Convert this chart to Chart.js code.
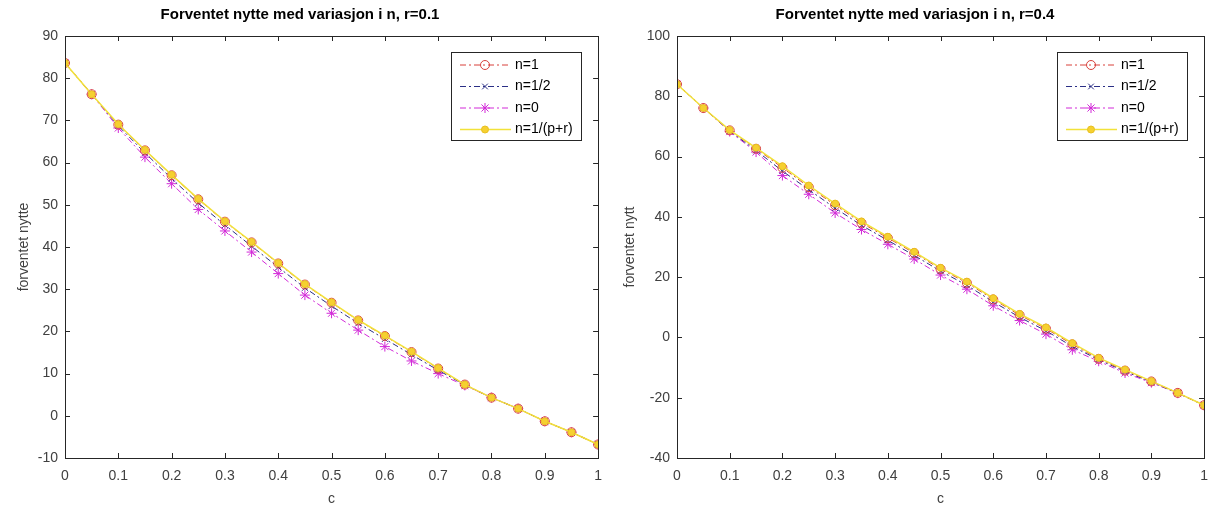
<!DOCTYPE html>
<html>
<head>
<meta charset="utf-8">
<script src="https://cdn.jsdelivr.net/npm/chart.js@4"></script>
<style>
html, body { margin: 0; padding: 0; background: #fff; }
#left { position: absolute; left: 0; top: 0; width: 612px; height: 508px; }
#right { position: absolute; left: 612px; top: 0; width: 606px; height: 508px; }
</style>
</head>
<body>
<div id="left"><canvas id="plot_r01"></canvas></div>
<div id="right"><canvas id="plot_r04"></canvas></div>
<script>
// ===========================================
// Data
// ===========================================
var c_values = [0, 0.05, 0.1, 0.15, 0.2, 0.25, 0.3, 0.35, 0.4, 0.45, 0.5,
	0.55, 0.6, 0.65, 0.7, 0.75, 0.8, 0.85, 0.9, 0.95, 1];

var x_ticks = [0, 0.1, 0.2, 0.3, 0.4, 0.5, 0.6, 0.7, 0.8, 0.9, 1];

var series_labels = ["n=1", "n=1/2", "n=0", "n=1/(p+r)"];

// r = 0.1
var r01_n1    = [83.6, 76.2, 69.0, 62.9, 57.0, 51.3, 46.0, 41.1, 36.1, 31.1, 26.8, 22.6, 18.9, 15.1, 11.2, 7.4, 4.3, 1.7, -1.3, -3.9, -6.8];
var r01_nhalf = [83.6, 76.2, 68.7, 62.3, 56.2, 50.4, 45.2, 40.2, 35.2, 30.3, 26.0, 21.9, 18.2, 14.5, 10.8, 7.3, 4.3, 1.7, -1.3, -3.9, -6.8];
var r01_n0    = [83.6, 76.2, 68.2, 61.3, 55.0, 48.9, 43.8, 38.8, 33.7, 28.6, 24.3, 20.3, 16.4, 13.0, 10.0, 7.2, 4.3, 1.7, -1.3, -3.9, -6.8];
var r01_npr   = [83.6, 76.2, 69.1, 63.0, 57.1, 51.4, 46.1, 41.2, 36.2, 31.2, 26.9, 22.7, 19.0, 15.2, 11.3, 7.4, 4.3, 1.7, -1.3, -3.9, -6.8];

// r = 0.4
var r04_n1    = [84.0, 76.1, 68.7, 62.6, 56.3, 49.9, 43.9, 38.0, 33.0, 28.0, 22.7, 18.1, 12.6, 7.4, 2.9, -2.3, -7.1, -11.0, -14.6, -18.4, -22.5];
var r04_nhalf = [84.0, 76.1, 68.5, 62.0, 55.2, 49.0, 42.9, 37.2, 32.2, 27.2, 22.0, 17.3, 11.8, 6.7, 2.2, -3.0, -7.4, -11.3, -14.8, -18.5, -22.5];
var r04_n0    = [84.0, 76.1, 68.3, 61.5, 53.7, 47.5, 41.3, 35.8, 30.9, 26.0, 20.7, 16.0, 10.5, 5.6, 1.1, -4.1, -7.9, -11.8, -15.0, -18.5, -22.5];
var r04_npr   = [84.0, 76.1, 68.8, 62.9, 56.8, 50.4, 44.4, 38.5, 33.4, 28.4, 23.1, 18.5, 13.0, 7.8, 3.3, -1.9, -6.8, -10.7, -14.5, -18.4, -22.5];

// ===========================================
// Styles
// ===========================================
var axis_color = "#262626";
var tick_color = "#404040";
var font_family = "'Liberation Sans', Arial, sans-serif";
var dash_dot = [6, 3, 2, 3];

var red = "#d8403a";
var blue = "#2b2f86";
var magenta = "#d22ad8";
var yellow = "#f2e23a";

function toPoints(values) {
	return values.map(function (v, i) { return { x: c_values[i], y: v }; });
}

function makeDatasets(n1, nhalf, n0, npr) {
	return [
		{
			label: series_labels[0], data: toPoints(n1), order: 1,
			borderColor: red, borderWidth: 1, borderDash: dash_dot,
			pointStyle: "circle", pointRadius: 4.5, pointBorderWidth: 1,
			pointBorderColor: red, pointBackgroundColor: "rgba(0,0,0,0)"
		},
		{
			label: series_labels[1], data: toPoints(nhalf), order: 2,
			borderColor: blue, borderWidth: 1, borderDash: dash_dot,
			pointStyle: "crossRot", pointRadius: 4, pointBorderWidth: 1,
			pointBorderColor: blue, pointBackgroundColor: blue
		},
		{
			label: series_labels[2], data: toPoints(n0), order: 3,
			borderColor: magenta, borderWidth: 1, borderDash: dash_dot,
			pointStyle: "star", pointRadius: 5, pointBorderWidth: 1,
			pointBorderColor: magenta, pointBackgroundColor: magenta
		},
		{
			label: series_labels[3], data: toPoints(npr), order: 0,
			borderColor: yellow, borderWidth: 1.5,
			pointStyle: "circle", pointRadius: 3.5, pointBorderWidth: 1,
			pointBorderColor: "#e8c020", pointBackgroundColor: "#f6d030"
		}
	];
}

// box, inside ticks and legend the way the original figure has them
var matlabFrame = {
	id: "matlabFrame",
	afterDatasetsDraw: function (chart) {
		var ctx = chart.ctx, a = chart.chartArea;
		var xs = chart.scales.x, ys = chart.scales.y;
		ctx.save();
		ctx.strokeStyle = axis_color;
		ctx.lineWidth = 1;
		ctx.strokeRect(Math.round(a.left) + 0.5, Math.round(a.top) + 0.5,
			Math.round(a.right - a.left), Math.round(a.bottom - a.top));
		ctx.beginPath();
		xs.ticks.forEach(function (t) {
			var px = Math.round(xs.getPixelForValue(t.value)) + 0.5;
			ctx.moveTo(px, a.bottom); ctx.lineTo(px, a.bottom - 5);
			ctx.moveTo(px, a.top); ctx.lineTo(px, a.top + 5);
		});
		ys.ticks.forEach(function (t) {
			var py = Math.round(ys.getPixelForValue(t.value)) + 0.5;
			ctx.moveTo(a.left, py); ctx.lineTo(a.left + 5, py);
			ctx.moveTo(a.right, py); ctx.lineTo(a.right - 5, py);
		});
		ctx.stroke();

		// legend
		var w = 130, h = 88;
		var x0 = Math.round(a.right - 17 - w), y0 = Math.round(a.top + 16);
		ctx.fillStyle = "#fff";
		ctx.fillRect(x0, y0, w, h);
		ctx.strokeStyle = axis_color;
		ctx.strokeRect(x0 + 0.5, y0 + 0.5, w, h);
		chart.data.datasets.forEach(function (ds, i) {
			var y = y0 + 13 + i * 21.5;
			ctx.setLineDash(ds.borderDash || []);
			ctx.strokeStyle = ds.borderColor;
			ctx.lineWidth = ds.borderWidth;
			ctx.beginPath(); ctx.moveTo(x0 + 9, y); ctx.lineTo(x0 + 60, y); ctx.stroke();
			ctx.setLineDash([]);
			ctx.fillStyle = ds.pointBackgroundColor;
			ctx.strokeStyle = ds.pointBorderColor;
			ctx.lineWidth = ds.pointBorderWidth;
			Chart.helpers.drawPoint(ctx, {
				pointStyle: ds.pointStyle, radius: ds.pointRadius,
				borderWidth: ds.pointBorderWidth, rotation: 0
			}, x0 + 34, y);
			ctx.fillStyle = "#000";
			ctx.font = "14px " + font_family;
			ctx.textAlign = "left";
			ctx.textBaseline = "middle";
			ctx.fillText(ds.label, x0 + 64, y);
		});
		ctx.restore();
	}
};

function createPlot(canvasId, title, yTitle, yMin, yMax, yStep, datasets, padRight, yTitlePad) {
	new Chart(document.getElementById(canvasId), {
		type: "line",
		data: { datasets: datasets },
		plugins: [matlabFrame],
		options: {
			responsive: true,
			maintainAspectRatio: false,
			animation: false,
			layout: { padding: { left: 0, right: padRight, top: 0, bottom: 0 } },
			plugins: {
				legend: { display: false },
				tooltip: { enabled: false },
				title: {
					display: true, text: title, color: "#000",
					font: { family: font_family, size: 15, weight: "bold" },
					padding: { top: 6, bottom: 12 }
				}
			},
			scales: {
				x: {
					type: "linear", min: 0, max: 1,
					afterBuildTicks: function (s) { s.ticks = x_ticks.map(function (v) { return { value: v }; }); },
					afterFit: function (s) { s.height = 50; },
					grid: { drawOnChartArea: false, drawTicks: false },
					border: { display: false },
					ticks: {
						padding: 10, color: tick_color, maxRotation: 0,
						font: { family: font_family, size: 14 },
						callback: function (v) { return String(+v.toFixed(2)); }
					},
					title: {
						display: true, text: "c", color: tick_color,
						font: { family: font_family, size: 14 }, padding: { top: 2, bottom: 0 }
					}
				},
				y: {
					min: yMin, max: yMax,
					afterFit: function (s) { s.width = 65; },
					grid: { drawOnChartArea: false, drawTicks: false },
					border: { display: false },
					ticks: {
						stepSize: yStep, padding: 7, color: tick_color,
						font: { family: font_family, size: 14 }
					},
					title: {
						display: true, text: yTitle, color: tick_color,
						font: { family: font_family, size: 14 }, padding: { top: yTitlePad, bottom: 0 }
					}
				}
			}
		}
	});
}

createPlot("plot_r01", "Forventet nytte med variasjon i n, r=0.1", "forventet nytte",
	-10, 90, 10, makeDatasets(r01_n1, r01_nhalf, r01_n0, r01_npr), 12, 16);
createPlot("plot_r04", "Forventet nytte med variasjon i n, r=0.4", "forventet nytt",
	-40, 100, 20, makeDatasets(r04_n1, r04_nhalf, r04_n0, r04_npr), 0, 10);
</script>
</body>
</html>
